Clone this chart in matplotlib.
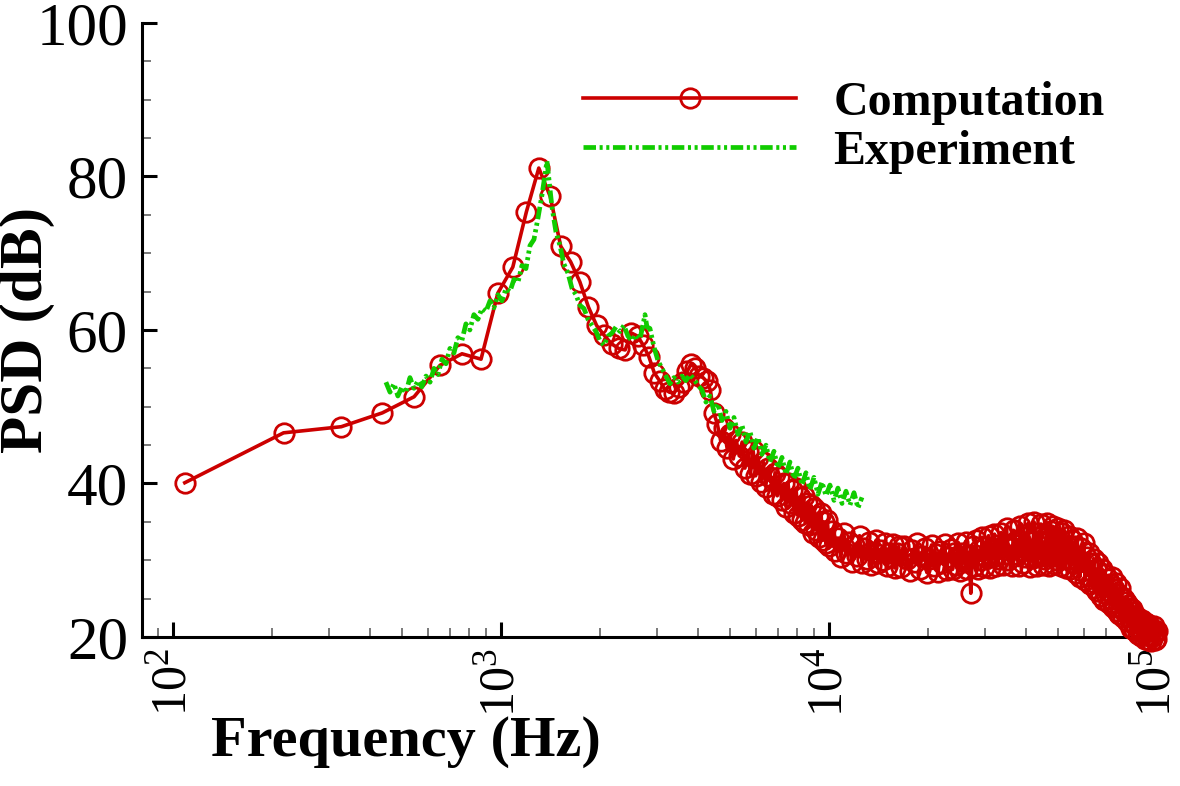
import numpy as np
import matplotlib
matplotlib.use("Agg")
import matplotlib.pyplot as plt
from matplotlib.ticker import LogLocator, MultipleLocator, FixedLocator, NullFormatter
from matplotlib.lines import Line2D

plt.rcParams['font.family'] = ['Liberation Serif', 'DejaVu Serif']
plt.rcParams['mathtext.fontset'] = 'custom'
plt.rcParams['mathtext.rm'] = 'Liberation Serif'
plt.rcParams['mathtext.it'] = 'Liberation Serif:italic'
plt.rcParams['mathtext.bf'] = 'Liberation Serif:bold'
plt.rcParams['lines.scale_dashes'] = False

# ---------------- data ----------------
freq_resolution_hz = 108.7

comp_bin = [
    1, 2, 3, 4, 5, 6, 7, 8, 9, 10, 11, 12, 13, 14, 15, 16, 17, 18, 19, 20,
    21, 22, 23, 24, 25, 26, 27, 28, 29, 30, 31, 32, 33, 34, 35, 36, 37, 38, 39, 40,
    41, 42, 43, 44, 45, 46, 47, 48, 49, 50, 51, 52, 53, 54, 55, 56, 57, 58, 59, 60,
    61, 62, 63, 64, 65, 66, 67, 68, 69, 70, 71, 72, 73, 74, 75, 76, 77, 78, 79, 80,
    81, 82, 83, 84, 85, 86, 87, 88, 89, 90, 91, 92,
    94, 96, 98, 100, 102, 104, 106, 108, 110, 112, 114, 116, 118, 120, 122, 124,
    126, 128, 130, 132, 134, 136, 138, 140, 142, 144, 146, 148, 150,
    153, 156, 159, 162, 165, 168, 171, 174, 177, 180, 183, 186, 189, 192, 195, 198,
    201, 204, 207, 210, 213, 216, 219, 222, 225, 228, 231, 234, 237, 240, 243, 246,
    249, 252, 255, 258, 261, 264, 267, 270, 273, 276, 279, 282, 285, 288, 291, 294,
    297, 300,
    304, 308, 312, 316, 320, 324, 328, 332, 336, 340, 344, 348, 352, 356, 360, 364,
    368, 372, 376, 380, 384, 388, 392, 396, 400, 404, 408, 412, 416, 420, 424, 428,
    432, 436, 440, 444, 448, 452, 456, 460, 464, 468, 472, 476, 480, 484, 488, 492,
    496, 500,
    505, 510, 515, 520, 525, 530, 535, 540, 545, 550, 555, 560, 565, 570, 575, 580,
    585, 590, 595, 600, 605, 610, 615, 620, 625, 630, 635, 640, 645, 650, 655, 660,
    665, 670, 675, 680, 685, 690, 695, 700, 705, 710, 715, 720, 725, 730, 735, 740,
    745, 750, 755, 760, 765, 770, 775, 780, 785, 790, 795, 800, 805, 810, 815, 820,
    825, 830, 835, 840, 845, 850, 855, 860, 865, 870, 875, 880, 885, 890, 895, 900,
    905, 910, 915, 920,
]

comp_psd = [
    40.1, 46.6, 47.4, 49.2, 51.3, 55.4, 56.9, 56.2, 64.8, 68.2, 75.4, 81.1, 77.4, 70.9, 68.9, 66.3, 63.0, 60.6, 59.3, 58.2,
    57.6, 57.4, 59.6, 59.2, 58.0, 56.5, 54.4, 53.4, 52.3, 51.9, 51.8, 52.6, 53.2, 54.6, 55.6, 55.0, 54.0, 53.8, 53.3, 52.2,
    49.2, 47.8, 45.6, 47.2, 44.6, 46.4, 43.2, 45.6, 43.6, 45.4, 42.0, 44.2, 41.2, 44.4, 41.0, 43.4, 40.2, 42.8, 39.6, 42.0,
    40.9, 38.6, 41.4, 38.4, 40.8, 37.8, 40.0, 37.0, 40.1, 37.4, 39.2, 36.2, 39.4, 35.8, 38.2, 35.2, 38.4, 34.8, 37.4, 34.6,
    37.2, 33.6, 36.8, 34.0, 35.8, 33.0, 36.2, 32.6, 35.0, 32.2, 35.2, 31.8,
    33.8, 31.2, 32.9, 30.4, 33.6, 31.0, 32.4, 29.8, 32.0, 30.6, 33.2, 29.7, 31.6, 30.2, 32.4, 29.4,
    31.1, 32.6, 29.6, 31.4, 30.0, 32.3, 29.2, 31.0, 30.4, 32.1, 29.0, 30.9, 31.8,
    29.1, 31.9, 30.2, 28.6, 31.4, 29.8, 32.2, 28.9, 30.6, 31.6, 28.4, 30.1, 32.0, 29.3, 30.8, 28.5,
    31.2, 29.6, 32.1, 28.7, 30.4, 31.5, 28.8, 30.9, 29.4, 32.3, 28.6, 31.0, 29.8, 32.4, 28.9, 30.7,
    25.7, 31.8, 29.2, 32.6, 28.8, 31.3, 30.0, 33.0, 29.1, 31.7, 30.3, 33.2, 29.0, 31.6, 30.4, 33.4,
    29.3, 32.0,
    30.2, 33.6, 29.4, 32.1, 34.2, 30.0, 31.8, 29.2, 33.9, 30.8, 32.6, 29.3, 34.5, 31.2, 29.6, 33.0,
    30.4, 34.8, 29.1, 32.5, 30.3, 35.0, 31.4, 29.2, 33.6, 30.6, 34.7, 29.4, 32.2, 30.1, 34.9, 31.0,
    29.3, 33.8, 30.5, 34.4, 29.5, 32.6, 30.0, 34.2, 31.0, 29.2, 33.5, 30.2, 33.9, 29.0, 31.8, 30.2,
    33.2, 28.9,
    32.6, 29.6, 31.8, 28.4, 32.9, 29.9, 27.8, 31.6, 28.6, 32.2, 27.4, 30.4, 28.0, 31.0, 26.9, 29.6,
    27.2, 30.2, 26.4, 28.8, 26.0, 29.6, 27.2, 25.4, 28.9, 26.6, 24.8, 28.2, 25.6, 27.6, 24.4, 26.9,
    24.9, 27.8, 23.9, 26.2, 24.1, 27.0, 23.4, 25.6, 23.0, 26.4, 23.8, 25.2, 22.6, 25.0, 23.2, 24.6,
    22.1, 24.2, 22.6, 23.8, 21.2, 23.6, 21.8, 23.2, 20.9, 22.8, 21.4, 22.6, 20.4, 22.4, 20.8, 22.0,
    20.1, 22.2, 20.6, 21.6, 19.8, 21.8, 20.3, 21.4, 19.6, 21.6, 20.2, 21.2, 19.5, 20.9, 20.1, 21.4,
    19.6, 20.6, 19.8, 20.8,
]

exp_freq = [
    446, 459, 472, 485, 499, 513, 528, 543, 559, 574, 591, 608, 625, 643, 661, 680,
    699, 719, 739, 760, 782, 804, 827, 851, 875, 900, 926, 952, 979, 1007, 1036, 1065,
    1096, 1127, 1159, 1192, 1226, 1261, 1297, 1334, 1362, 1381, 1401, 1431, 1471, 1513,
    1556, 1601, 1647, 1693, 1742, 1791, 1842, 1895, 1949, 2004, 2061, 2120, 2180, 2242,
    2306, 2371, 2439, 2508, 2579, 2653, 2709, 2748, 2787, 2846, 2927, 3011, 3096, 3184,
    3275, 3368, 3464, 3563, 3664, 3768, 3876, 3986, 4100, 4217, 4337, 4461, 4587, 4718,
    4853, 4992, 5134, 5281, 5431, 5585, 5743, 5907, 6075, 6248, 6426, 6609, 6797, 6990,
    7189, 7394, 7604, 7821, 8044, 8273, 8508, 8750, 9000, 9256, 9520, 9791, 10070, 10360,
    10650, 10960, 11270, 11590, 11920, 12260, 12610,
]

exp_psd = [
    53.2, 51.9, 53.0, 51.4, 52.6, 51.8, 53.8, 52.4, 53.4, 52.6, 54.0, 53.2, 55.0, 54.2, 56.2, 55.6,
    57.6, 57.0, 59.0, 58.6, 60.8, 60.0, 62.0, 61.4, 62.8, 62.4, 63.8, 62.9, 64.6, 63.8, 65.4, 65.0,
    66.6, 66.2, 68.4, 68.0, 71.0, 71.8, 74.6, 77.6, 80.2, 82.0, 79.6, 76.0, 72.8, 71.0,
    68.6, 67.4, 65.4, 64.6, 63.2, 62.8, 61.4, 60.6, 59.8, 58.6, 58.0, 59.2, 59.6, 60.4,
    59.8, 60.6, 59.2, 58.6, 59.4, 58.8, 60.6, 62.0, 60.4, 60.2, 57.8, 56.0, 55.0, 54.0,
    53.0, 53.8, 53.2, 54.0, 53.4, 54.2, 53.6, 52.8, 52.2, 50.6, 51.4, 49.4, 50.4, 48.2,
    49.4, 47.2, 48.6, 46.4, 47.6, 45.4, 46.8, 44.6, 46.0, 43.8, 45.0, 42.8, 44.2, 42.0,
    43.4, 41.2, 42.8, 40.6, 42.0, 39.8, 41.4, 39.2, 40.8, 38.6, 40.2, 38.4, 39.8, 37.8,
    39.4, 37.4, 39.0, 37.2, 38.8, 36.8, 38.2,
]

series_labels = ["Computation", "Experiment"]
y_ticks = [20, 40, 60, 80, 100]

# ---------------- style ----------------
RED = '#CC0000'
GREEN = '#11CC00'
DASH_DOT_DOT = (0, (9.0, 2.6, 2.2, 2.6, 2.2, 2.6))

comp_freq = np.array(comp_bin) * freq_resolution_hz

fig = plt.figure(figsize=(11.8, 7.86), dpi=100)
ax = fig.add_axes([0.12034, 0.18957, 0.86017, 0.78117])

ax.plot(comp_freq, comp_psd, color=RED, lw=2.6, marker='o', ms=14,
        mfc='none', mec=RED, mew=2.0, clip_on=False, zorder=3)
ax.plot(exp_freq, exp_psd, color=GREEN, lw=3.4, linestyle=DASH_DOT_DOT, zorder=4)

ax.set_xscale('log')
ax.set_xlim(80.5, 1.0e5)
ax.set_ylim(20, 100)

ax.spines['top'].set_visible(False)
ax.spines['right'].set_visible(False)
for s in ('left', 'bottom'):
    ax.spines[s].set_linewidth(2.2)

ax.xaxis.set_major_locator(LogLocator(base=10, numticks=10))
ax.xaxis.set_minor_locator(LogLocator(base=10, subs=np.arange(2, 10), numticks=20))
ax.xaxis.set_minor_formatter(NullFormatter())
ax.yaxis.set_major_locator(FixedLocator(y_ticks))
ax.yaxis.set_minor_locator(MultipleLocator(5))

ax.tick_params(which='major', direction='in', length=11, width=2.2)
ax.tick_params(which='minor', direction='in', length=6.5, width=1.1, color='#555555')
ax.tick_params(axis='y', which='major', pad=10, labelsize=44)
ax.tick_params(axis='x', which='major', pad=8, labelsize=36, labelrotation=90)

ax.set_xlabel('Frequency (Hz)', fontsize=42, fontweight='bold')
ax.set_ylabel('PSD (dB)', fontsize=44, fontweight='bold')
ax.xaxis.set_label_coords(0.260, -0.128)
ax.yaxis.set_label_coords(-0.086, 0.5)

handles = [
    Line2D([], [], color=RED, lw=2.6, marker='o', ms=14, mfc='none', mec=RED, mew=2.0),
    Line2D([], [], color=GREEN, lw=3.4, linestyle=DASH_DOT_DOT),
]
leg = ax.legend(handles, series_labels, loc='upper left', bbox_to_anchor=(0.4345, 0.9055),
                frameon=False, handlelength=4.45, handletextpad=0.78, borderpad=0,
                borderaxespad=0, labelspacing=0.10, numpoints=1,
                prop={'family': 'Liberation Serif', 'weight': 'bold', 'size': 34.5})

fig.savefig('out.png', dpi=100)
